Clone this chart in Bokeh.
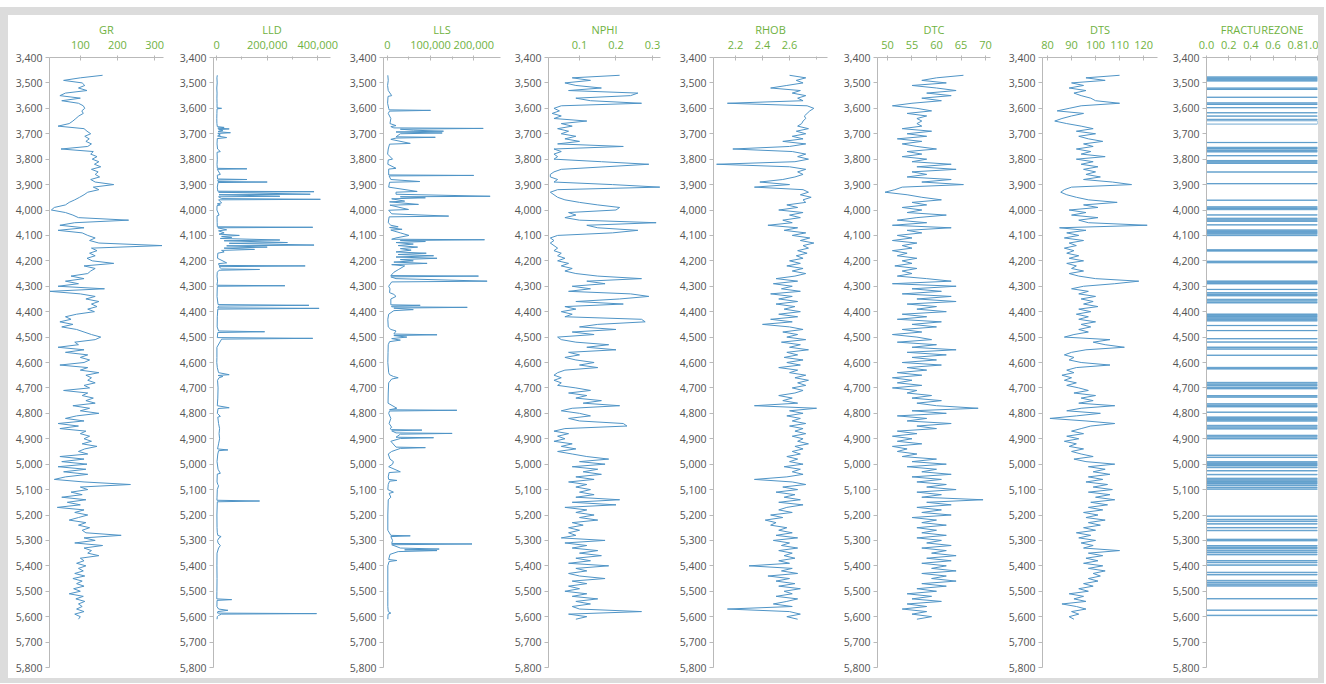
from bokeh.plotting import figure
from bokeh.layouts import row
from bokeh.models import Range1d, FixedTicker, NumeralTickFormatter
from bokeh.embed import file_html
from bokeh.resources import INLINE

# sampling grid of the logs (ft)
DEPTH = list(range(3470, 5620, 10))

GR = [160,100,55,105,112,95,118,60,45,100,
      50,95,108,112,104,108,96,88,80,70,
      40,110,118,128,112,124,115,130,120,48,
      135,128,145,132,150,138,155,130,148,140,
      152,128,140,190,135,150,120,110,98,85,
      70,60,30,22,60,80,95,230,85,45,
      110,40,105,120,140,125,150,320,130,145,
      125,140,118,132,190,110,140,128,120,75,
      110,60,95,40,165,18,100,140,115,150,
      130,145,120,138,90,60,75,45,80,50,
      90,110,130,155,140,85,95,40,110,60,
      120,100,125,110,45,120,100,150,115,130,
      120,140,110,125,55,120,105,135,115,140,
      80,125,100,150,90,60,110,40,95,45,
      115,100,125,110,130,105,145,112,95,120,
      45,110,50,118,40,115,55,120,60,30,
      110,235,100,120,75,105,50,115,65,100,
      38,110,85,120,95,70,115,95,125,105,
      115,210,110,140,85,160,110,130,120,150,
      100,110,90,115,95,108,85,112,80,105,
      90,110,82,100,70,108,88,112,95,105,
      90,110,85,100,95]

# resistivity logs are spiky: own depth lists, denser around the spikes
LLD_DEPTH = [3470,3480,3500,3520,3540,3560,3580,3598,3600,3602,3620,3640,3660,3672,3675,3678,
             3681,3684,3688,3692,3696,3699,3705,3709,3715,3719,3740,3760,3770,3773,3800,3820,
             3836,3838,3840,3860,3863,3878,3880,3882,3888,3890,3892,3910,3926,3928,3930,3938,
             3940,3946,3948,3955,3958,3960,3972,3976,3980,3983,4000,4020,4023,4050,4066,4068,
             4070,4078,4082,4090,4095,4100,4104,4108,4112,4118,4121,4128,4131,4138,4141,4146,
             4150,4155,4159,4165,4170,4190,4208,4211,4218,4220,4223,4232,4234,4237,4245,4260,
             4280,4296,4298,4300,4340,4372,4375,4378,4385,4387,4390,4420,4460,4476,4479,4482,
             4502,4505,4508,4540,4580,4600,4620,4640,4648,4651,4655,4660,4670,4700,4740,4770,
             4778,4781,4800,4812,4815,4840,4860,4880,4900,4920,4940,4944,4947,4960,4990,5020,
             5036,5039,5070,5080,5085,5100,5130,5142,5145,5148,5200,5250,5270,5280,5285,5290,
             5300,5310,5320,5330,5350,5400,5450,5500,5530,5533,5536,5560,5570,5575,5580,5586,
             5588,5590,5595,5600,5610]
LLD = [3000,1500,2500,1000,2000,1500,2000,2000,20000,2000,1500,1000,1500,3000,30000,5000,
       50000,8000,25000,6000,55000,5000,15000,4000,40000,3000,2000,4000,15000,2000,3000,2000,
       3000,120000,3000,15000,3000,4000,120000,5000,6000,200000,6000,3000,5000,385000,8000,370000,
       10000,250000,8000,20000,410000,8000,20000,3000,15000,2000,1500,10000,2000,2500,3000,380000,
       5000,40000,8000,30000,10000,90000,20000,60000,15000,250000,30000,280000,50000,385000,40000,200000,
       30000,150000,20000,30000,5000,4000,40000,8000,10000,350000,10000,20000,170000,10000,3000,2000,
       4000,1500,270000,3000,2000,6000,365000,8000,5000,405000,5000,3000,2500,8000,190000,5000,
       3000,380000,20000,1500,1500,1000,3000,8000,50000,6000,25000,10000,4000,6000,5000,3000,
       50000,6000,3000,15000,5000,8000,12000,10000,12000,8000,4000,45000,8000,5000,2000,6000,
       15000,3000,2000,5000,8000,3000,2000,1500,170000,3000,1500,2000,3000,5000,18000,10000,
       4000,6000,15000,8000,2000,1500,2000,1500,1000,60000,2000,1500,8000,45000,5000,4000,
       395000,20000,8000,3000,2000]

LLS_DEPTH = [3470,3490,3510,3530,3550,3553,3580,3600,3606,3608,3611,3620,3640,3660,3668,3672,
             3677,3679,3682,3686,3690,3693,3697,3700,3712,3714,3717,3722,3738,3741,3760,3780,
             3800,3803,3820,3836,3839,3862,3864,3866,3880,3888,3891,3910,3927,3930,3938,3946,
             3948,3952,3956,3965,3968,3978,3981,3998,4001,4015,4024,4027,4050,4060,4066,4069,
             4076,4079,4090,4100,4110,4115,4117,4120,4124,4128,4134,4140,4146,4152,4158,4165,
             4170,4175,4180,4185,4190,4195,4200,4205,4210,4215,4220,4235,4245,4258,4260,4263,
             4270,4280,4283,4300,4310,4325,4332,4340,4350,4373,4375,4378,4381,4383,4386,4392,
             4396,4410,4430,4460,4470,4476,4488,4491,4494,4500,4506,4512,4518,4530,4560,4600,
             4640,4648,4655,4660,4665,4680,4720,4760,4780,4786,4788,4791,4800,4820,4840,4855,
             4860,4864,4866,4869,4877,4879,4882,4894,4896,4899,4910,4933,4935,4938,4950,4960,
             4980,4990,5000,5010,5030,5033,5050,5060,5064,5067,5080,5100,5110,5115,5130,5140,
             5200,5260,5280,5282,5285,5300,5312,5314,5317,5330,5334,5337,5340,5344,5355,5375,
             5379,5383,5400,5500,5560,5580,5586,5590,5610]
LLS = [1000,2000,500,2000,10000,1500,500,3000,4000,100000,5000,2000,8000,6000,20000,8000,
       15000,222000,30000,60000,130000,20000,127000,30000,20000,111000,20000,8000,53000,5000,2000,500,
       12000,2000,1000,20000,3000,3000,200000,4000,8000,75000,5000,3000,69000,20000,20000,238000,
       30000,88000,10000,40000,5000,72000,6000,49000,3000,10000,142000,4000,2000,8000,25000,5000,
       34000,8000,30000,50000,20000,10000,225000,30000,88000,20000,60000,25000,70000,30000,55000,20000,
       90000,25000,107000,20000,115000,30000,60000,15000,92000,10000,40000,25000,15000,8000,211000,8000,
       20000,231000,10000,3000,6000,5000,15000,20000,8000,8000,76000,10000,10000,185000,15000,60000,
       15000,3000,1000,2000,8000,20000,15000,115000,15000,45000,10000,30000,5000,2000,1500,1000,
       3000,5000,14000,25000,10000,3000,2000,1500,22000,5000,161000,5000,3000,8000,4000,10000,
       6000,10000,80000,10000,20000,150000,30000,20000,107000,30000,8000,20000,88000,30000,10000,2000,
       6000,14000,12000,3000,30000,4000,2000,3000,22000,5000,2000,1000,14000,4000,8000,2000,
       1000,1000,8000,53000,8000,12000,10000,196000,10000,30000,120000,40000,115000,25000,6000,3000,
       22000,4000,1000,1000,1000,2000,8000,1500,1000]

NPHI = [0.21,0.08,0.13,0.06,0.09,0.16,0.07,0.26,0.24,0.09,
        0.13,0.27,0.05,0.03,0.045,0.025,0.05,0.03,0.12,0.05,
        0.08,0.04,0.07,0.05,0.09,0.06,0.10,0.04,0.22,0.03,
        0.05,0.03,0.04,0.03,0.16,0.29,0.17,0.05,0.03,0.02,
        0.02,0.04,0.03,0.19,0.32,0.04,0.02,0.03,0.04,0.06,
        0.10,0.15,0.21,0.20,0.07,0.09,0.06,0.10,0.31,0.12,
        0.15,0.26,0.19,0.04,0.02,0.03,0.02,0.03,0.04,0.03,
        0.05,0.04,0.06,0.04,0.07,0.05,0.08,0.06,0.09,0.15,
        0.27,0.12,0.17,0.08,0.13,0.07,0.24,0.29,0.21,0.09,
        0.22,0.06,0.09,0.05,0.08,0.06,0.27,0.28,0.15,0.10,
        0.20,0.08,0.14,0.04,0.05,0.09,0.18,0.12,0.20,0.07,
        0.10,0.06,0.09,0.14,0.10,0.15,0.06,0.04,0.03,0.05,
        0.03,0.05,0.04,0.09,0.13,0.07,0.12,0.09,0.16,0.11,
        0.21,0.08,0.05,0.10,0.13,0.07,0.10,0.22,0.23,0.06,
        0.03,0.07,0.04,0.06,0.03,0.08,0.05,0.09,0.04,0.08,
        0.12,0.18,0.10,0.17,0.08,0.15,0.11,0.16,0.09,0.14,
        0.07,0.12,0.09,0.13,0.10,0.14,0.09,0.21,0.08,0.20,
        0.06,0.12,0.09,0.14,0.10,0.15,0.08,0.11,0.07,0.10,
        0.07,0.09,0.05,0.17,0.06,0.12,0.08,0.15,0.10,0.16,
        0.09,0.13,0.07,0.18,0.09,0.12,0.07,0.10,0.17,0.08,
        0.12,0.07,0.10,0.06,0.12,0.08,0.15,0.09,0.13,0.08,
        0.10,0.27,0.07,0.12,0.09]

RHOB = [2.60,2.72,2.65,2.70,2.58,2.46,2.68,2.62,2.72,2.66,
        2.70,2.14,2.73,2.78,2.75,2.73,2.71,2.72,2.70,2.69,
        2.66,2.74,2.65,2.72,2.62,2.70,2.55,2.72,2.60,2.18,
        2.62,2.72,2.66,2.74,2.64,2.06,2.60,2.72,2.66,2.70,
        2.64,2.55,2.38,2.60,2.34,2.70,2.74,2.68,2.76,2.70,
        2.72,2.58,2.66,2.52,2.70,2.60,2.68,2.55,2.62,2.44,
        2.66,2.56,2.72,2.62,2.75,2.68,2.78,2.70,2.74,2.66,
        2.73,2.65,2.70,2.60,2.68,2.58,2.70,2.62,2.72,2.64,
        2.50,2.66,2.48,2.62,2.54,2.68,2.46,2.62,2.52,2.66,
        2.50,2.64,2.56,2.68,2.52,2.66,2.46,2.62,2.40,2.60,
        2.70,2.55,2.66,2.58,2.72,2.54,2.68,2.60,2.74,2.58,
        2.66,2.56,2.70,2.58,2.68,2.52,2.66,2.60,2.72,2.64,
        2.74,2.66,2.72,2.62,2.70,2.64,2.52,2.62,2.55,2.66,
        2.34,2.80,2.60,2.70,2.58,2.68,2.62,2.72,2.60,2.70,
        2.64,2.72,2.62,2.70,2.66,2.74,2.64,2.70,2.62,2.68,
        2.58,2.66,2.60,2.70,2.56,2.68,2.62,2.70,2.58,2.34,
        2.62,2.72,2.55,2.66,2.50,2.64,2.56,2.68,2.52,2.70,
        2.58,2.52,2.62,2.46,2.55,2.42,2.50,2.46,2.58,2.52,
        2.62,2.50,2.66,2.48,2.60,2.54,2.66,2.52,2.62,2.56,
        2.64,2.52,2.60,2.30,2.62,2.54,2.66,2.44,2.60,2.50,
        2.64,2.52,2.68,2.56,2.62,2.50,2.66,2.58,2.48,2.62,
        2.14,2.60,2.68,2.58,2.66]

DTC = [65.5,60,57,62,55,60,64,58,63,57,
       61,55,51,56,59,54,58,56,57,56,
       57,53,59,54,58,52,57,53,56,60,
       54,57,53,58,55,63,56,64,55,58,
       54,63,57,65.5,53,51.5,49.5,54,57,61,
       55,58,53,57,54,62,56,52,58,51,
       63,54,57,52,55,51,56,53,55,51,
       54,52,56,53,55,51.5,56,53,55,52,
       58,63,51,64,55,61,53,63,56,64,
       54,60,56,62,53,58,52,61,55,60,
       53,57,51,56,59,52,60,55,64,54,
       62,55,60,53,61,54,58,52,57,51,
       55,52,57,51,56,54,59,55,61,56,
       60,68.5,55,62,52,58,54,63,56,60,
       52,56,51,55,52,57,51,54,52,56,
       53,60,55,62,54,60,57,63,55,61,
       56,62,58,64,56,61,57,69.5,58,63,
       56,61,57,63,55,60,57,62,56,60,
       57,62,56,61,58,63,57,62,59,64,
       58,63,57,62,59,64,57,62,59,64,
       57,62,56,60,54,59,55,61,54,58,
       53,58,55,59,56]

DTS = [110,96,104,90,95,89,96,91,94,98,
       100,110,94,89,84,95,90,86,83,88,
       94,99,92,100,93,97,103,95,99,92,
       98,94,104,92,99,94,101,95,100,96,
       102,95,107,115,90,87,85.5,88,92,97,
       109,95,101,89,96,90,101,93,97,121.5,
       85,96,88,93,87,95,89,92,87,91,
       88,93,89,95,88,92,90,95,89,93,
       100,118,108,95,90,97,93,100,94,99,
       95,101,93,98,92,97,93,100,94,98,
       93,97,91,87,106,99,104,112,96,90,
       87,91,89,94,106,92,88,91,86,90,
       87,92,88,93,97,91,100,94,99,93,
       108,94,88,102,92,81,96,108,98,94,
       90,95,88,93,87,92,89,95,90,94,
       99,91,96,108,97,104,99,106,97,103,
       96,105,99,107,97,106,100,108,98,105,
       97,103,95,101,96,104,97,102,95,100,
       92,98,93,100,94,99,95,110,97,103,
       96,101,95,103,97,104,99,102,97,101,
       95,99,93,97,89,95,91,96,86,92,
       96,90,93,89,91]

# fracture zone: intervals (top, base) where FRACTUREZONE = 1
FRAC_TOP = [3476,3481,3486,3491,3520,3525,3556,3578,3584,3597,3617,3630,3643,3649,
            3734,3753,3758,3764,3770,3786,3805,3810,3815,3850,3896,3961,
            3987,3992,3997,4019,4032,4038,4043,4058,4078,4083,4088,4093,4099,
            4156,4160,4201,4206,4279,4284,4289,4312,4325,4331,4336,4351,4357,4364,
            4409,4414,4419,4424,4429,4435,4454,4474,4506,4519,4539,4546,4571,
            4619,4624,4678,4684,4690,4697,4702,4730,4735,4762,4768,4773,4795,
            4814,4819,4824,4829,4847,4853,4860,4886,4892,4899,4964,4972,
            4990,4995,5000,5005,5012,5025,5040,5055,5061,5066,5071,5076,5082,5090,5097,
            5204,5217,5224,5234,5249,5260,5295,5300,5320,5326,5332,5340,5347,5355,
            5379,5386,5396,5425,5434,5457,5464,5471,5478,5529,5574,5594]
FRAC_BASE = [3478,3483,3488,3493,3521,3526,3557,3580,3585,3598,3618,3631,3645,3662,
             3735,3755,3760,3766,3772,3787,3807,3812,3817,3851,3897,3962,
             3989,3994,3999,4020,4034,4040,4045,4059,4080,4085,4090,4095,4101,
             4158,4162,4203,4208,4281,4286,4291,4313,4327,4333,4338,4353,4359,4366,
             4411,4416,4421,4426,4431,4437,4455,4475,4507,4520,4541,4548,4572,
             4621,4626,4680,4686,4692,4699,4704,4732,4737,4764,4770,4775,4796,
             4816,4821,4826,4831,4849,4855,4862,4888,4894,4901,4966,4974,
             4992,4997,5002,5007,5014,5027,5042,5057,5063,5068,5073,5078,5084,5092,5099,
             5205,5219,5226,5236,5251,5262,5297,5302,5322,5328,5334,5342,5349,5357,
             5381,5388,5398,5427,5436,5459,5466,5473,5480,5530,5575,5596]

DEPTH_TICKS = list(range(3400, 5900, 100))

LINE = "#4f94c6"
GREEN = "#6fb23f"
AXIS_GRAY = "#b9b9b9"
LABEL_GRAY = "#555555"
FONT = "Open Sans"
FRAME = "#dcdcdc"

frac_x, frac_y = [0], [DEPTH[0]]
for t, b in zip(FRAC_TOP, FRAC_BASE):
    frac_x += [0, 1, 1, 0]
    frac_y += [t, t, b, b]
frac_x.append(0)
frac_y.append(DEPTH[-1])

panels = [
    dict(name="GR", x=GR, y=DEPTH, rng=(17, 324), ticks=[100, 200, 300], minor=[], fmt="0", w=164, rb=9, lw=1),
    dict(name="LLD", x=LLD, y=LLD_DEPTH, rng=(-12000, 450000), ticks=[0, 200000, 400000], minor=[100000, 300000], fmt="0,0", w=170, rb=12, lw=1),
    dict(name="LLS", x=LLS, y=LLS_DEPTH, rng=(-9000, 262000), ticks=[0, 100000, 200000], minor=[50000, 150000], fmt="0,0", w=165, rb=7, lw=1),
    dict(name="NPHI", x=NPHI, y=DEPTH, rng=(0.015, 0.322), ticks=[0.1, 0.2, 0.3], minor=[], fmt="0.0", w=165, rb=12, lw=1),
    dict(name="RHOB", x=RHOB, y=DEPTH, rng=(2.037, 2.881), ticks=[2.2, 2.4, 2.6], minor=[2.8], fmt="0.0", w=164, rb=9, lw=1),
    dict(name="DTC", x=DTC, y=DEPTH, rng=(47.96, 71.02), ticks=[50, 55, 60, 65, 70], minor=[], fmt="0", w=165, rb=11, lw=1),
    dict(name="DTS", x=DTS, y=DEPTH, rng=(77.9, 125.8), ticks=[80, 90, 100, 110, 120], minor=[], fmt="0", w=164, rb=8, lw=1),
    dict(name="FRACTUREZONE", x=frac_x, y=frac_y, rng=(0, 1), ticks=[0, 0.2, 0.4, 0.6, 0.8, 1.0], minor=[], fmt="0.0", w=153, rb=1, lw=0.8),
]

figs = []
for pn in panels:
    p = figure(width=pn["w"], height=663,
               x_range=Range1d(*pn["rng"]), y_range=Range1d(5800, 3400),
               x_axis_location="above", output_backend="svg", toolbar_location=None,
               min_border_left=41, min_border_right=pn["rb"],
               min_border_top=42, min_border_bottom=11)
    p.outline_line_color = None
    p.xgrid.visible = False
    p.ygrid.visible = False
    p.background_fill_color = "white"
    p.border_fill_color = "white"

    xa = p.xaxis[0]
    xa.ticker = FixedTicker(ticks=pn["ticks"], minor_ticks=pn["minor"])
    xa.formatter = NumeralTickFormatter(format=pn["fmt"])
    xa.axis_label = pn["name"]
    xa.axis_label_text_color = GREEN
    xa.axis_label_text_font = FONT
    xa.axis_label_text_font_size = "11px"
    xa.axis_label_text_font_style = "normal"
    xa.axis_label_standoff = 1
    xa.major_label_text_color = GREEN
    xa.major_label_text_font = FONT
    xa.major_label_text_font_size = "11px"
    xa.major_label_standoff = 7
    xa.axis_line_color = AXIS_GRAY
    xa.major_tick_line_color = AXIS_GRAY
    xa.minor_tick_line_color = AXIS_GRAY
    xa.major_tick_in = 3
    xa.major_tick_out = 2
    xa.minor_tick_in = 2
    xa.minor_tick_out = 1

    ya = p.yaxis[0]
    ya.ticker = FixedTicker(ticks=DEPTH_TICKS, minor_ticks=[])
    ya.formatter = NumeralTickFormatter(format="0,0")
    ya.major_label_text_color = LABEL_GRAY
    ya.major_label_text_font = FONT
    ya.major_label_text_font_size = "10.5px"
    ya.major_label_standoff = 3
    ya.axis_line_color = AXIS_GRAY
    ya.major_tick_line_color = AXIS_GRAY
    ya.major_tick_in = 0
    ya.major_tick_out = 4

    p.line(pn["x"], pn["y"], line_color=LINE, line_width=pn["lw"])
    figs.append(p)

layout = row(*figs, spacing=0,
             styles={"margin-top": "7px",
                     "border-top": f"8px solid {FRAME}",
                     "border-left": f"8px solid {FRAME}",
                     "border-right": f"6px solid {FRAME}",
                     "border-bottom": f"5px solid {FRAME}"})
open("out.html", "w").write(file_html(layout, INLINE))
